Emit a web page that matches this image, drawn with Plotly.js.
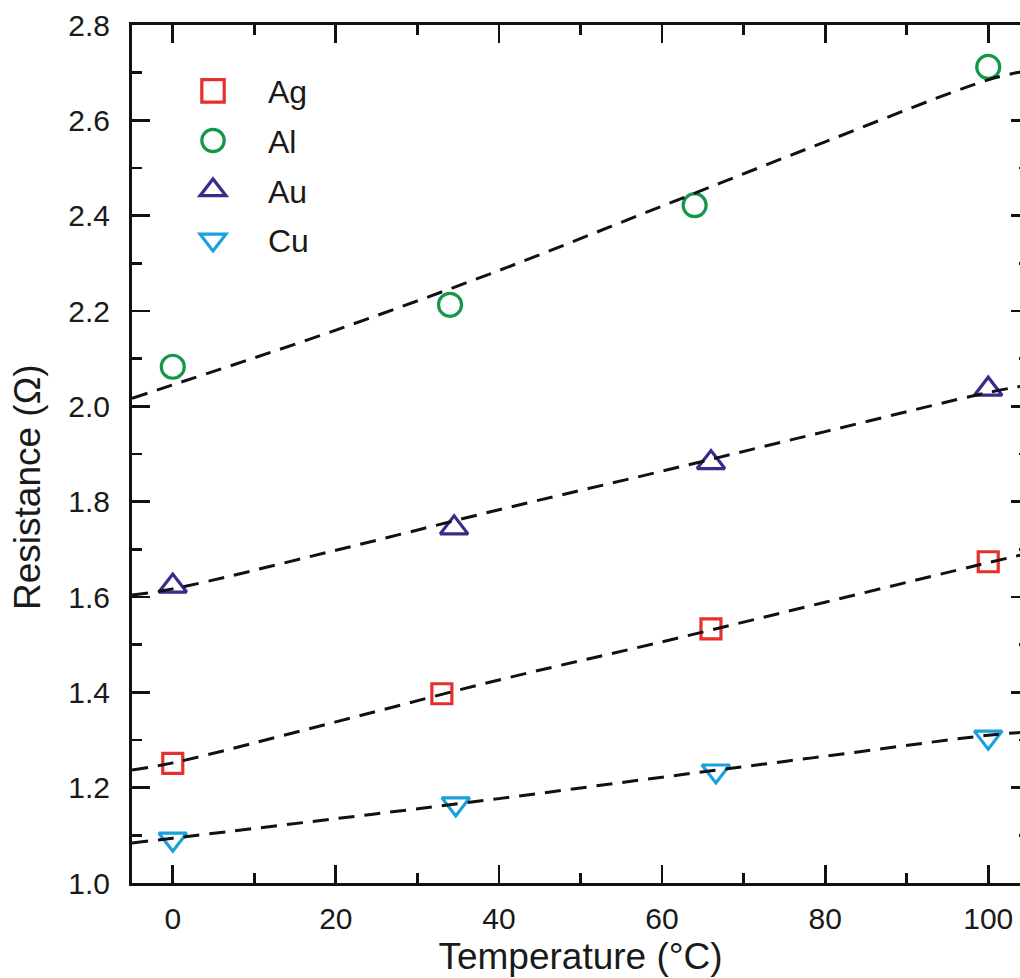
<!DOCTYPE html>
<html><head><meta charset="utf-8">
<script src="https://cdn.plot.ly/plotly-3.0.1.min.js"></script>
<style>html,body{margin:0;padding:0;overflow:hidden;background:#fff}</style>
</head><body><div id="chart" style="width:1040px;height:978px"></div>
<script>
// Measured data points (temperature °C, resistance Ω)
const agX = [0, 33, 66, 100];
const agY = [1.251, 1.397, 1.533, 1.674];
const alX = [0, 34, 64, 100];
const alY = [2.083, 2.213, 2.422, 2.712];
const auX = [0, 34.5, 66, 100];
const auY = [1.623, 1.745, 1.882, 2.036];
const cuX = [0, 34.7, 66.6, 100];
const cuY = [1.092, 1.166, 1.235, 1.306];

// Fit curves
const fitX = [-5, 0, 20, 40, 60, 80, 100, 105];
const agFit = [1.237, 1.252, 1.338, 1.426, 1.506, 1.589, 1.672, 1.692];
const alFit = [2.017, 2.045, 2.160, 2.285, 2.420, 2.555, 2.685, 2.705];
const auFit = [1.604, 1.617, 1.698, 1.783, 1.864, 1.947, 2.029, 2.045];
const cuFit = [1.084, 1.094, 1.135, 1.177, 1.222, 1.266, 1.310, 1.317];

const names = ['Ag', 'Al', 'Au', 'Cu'];
const colors = ['#e5302e', '#11984a', '#3b2a8c', '#1aa0dc'];
const symbols = ['square-open', 'circle-open', 'triangle-up-open', 'triangle-down-open'];
const sizes = [20, 23, 24, 24];
const xs = [agX, alX, auX, cuX];
const ys = [agY, alY, auY, cuY];
const fits = [agFit, alFit, auFit, cuFit];

const FONT = 'Liberation Sans, Arial, Helvetica, sans-serif';
const traces = [];
for (let i = 0; i < 4; i++) {
  traces.push({
    type: 'scatter', mode: 'markers', name: names[i], x: xs[i], y: ys[i],
    legendgroup: 'g' + i,
    marker: {symbol: symbols[i], size: sizes[i], color: colors[i], line: {color: colors[i], width: 3.2}},
    cliponaxis: false
  });
}
for (let i = 0; i < 4; i++) {
  traces.push({
    type: 'scatter', mode: 'lines', x: fitX, y: fits[i], showlegend: false,
    legendgroup: 'g' + i,
    line: {color: '#111', width: 3, dash: '16px,10px', shape: 'spline', smoothing: 1}
  });
}

const axisCommon = {
  showline: true, linecolor: '#111', linewidth: 3, mirror: 'ticks',
  ticks: 'inside', ticklen: 18, tickwidth: 2.8, tickcolor: '#111',
  showgrid: false, zeroline: false,
  tickfont: {family: FONT, size: 30, color: '#1a1a1a'}
};

const layout = {
  width: 1040, height: 978,
  margin: {l: 132, r: 11, t: 25, b: 95},
  paper_bgcolor: '#fff', plot_bgcolor: '#fff',
  showlegend: true,
  xaxis: Object.assign({}, axisCommon, {
    range: [-5, 105], tick0: 0, dtick: 20,
    minor: {dtick: 10, ticklen: 10, tickwidth: 2.8, tickcolor: '#111', ticks: 'inside'},
    ticklabelstandoff: 7,
    title: {text: 'Temperature (°C)', font: {family: FONT, size: 37, color: '#1a1a1a'}, standoff: 10}
  }),
  yaxis: Object.assign({}, axisCommon, {
    range: [1.0, 2.8], tick0: 1.0, dtick: 0.2, tickformat: '.1f',
    minor: {dtick: 0.1, ticklen: 10, tickwidth: 2.8, tickcolor: '#111', ticks: 'inside'},
    ticklabelstandoff: 13
  }),
  legend: {
    x: 0.029, y: 0.955, xanchor: 'left', yanchor: 'top',
    bgcolor: 'rgba(0,0,0,0)', borderwidth: 0,
    font: {family: FONT, size: 32, color: '#1a1a1a'},
    itemwidth: 100, itemsizing: 'trace',
    traceorder: 'grouped', tracegroupgap: 5
  },
  annotations: [{
    text: 'Resistance (Ω)', textangle: -90, xref: 'paper', yref: 'paper',
    x: (27 - 132) / 897, y: (883 - 487) / 858, xanchor: 'center', yanchor: 'middle',
    showarrow: false, font: {family: FONT, size: 37, color: '#1a1a1a'}
  }]
};

Plotly.newPlot('chart', traces, layout, {displayModeBar: false, staticPlot: true}).then(function () {
  // enlarge legend symbols to match the plotted marker size
  document.querySelectorAll('.legend .legendpoints path.scatterpts').forEach(function (p) {
    const t = p.getAttribute('transform') || '';
    p.setAttribute('transform', t + ' scale(1.4)');
    p.style.strokeWidth = '2.3px';
  });
});
</script>
</body></html>
